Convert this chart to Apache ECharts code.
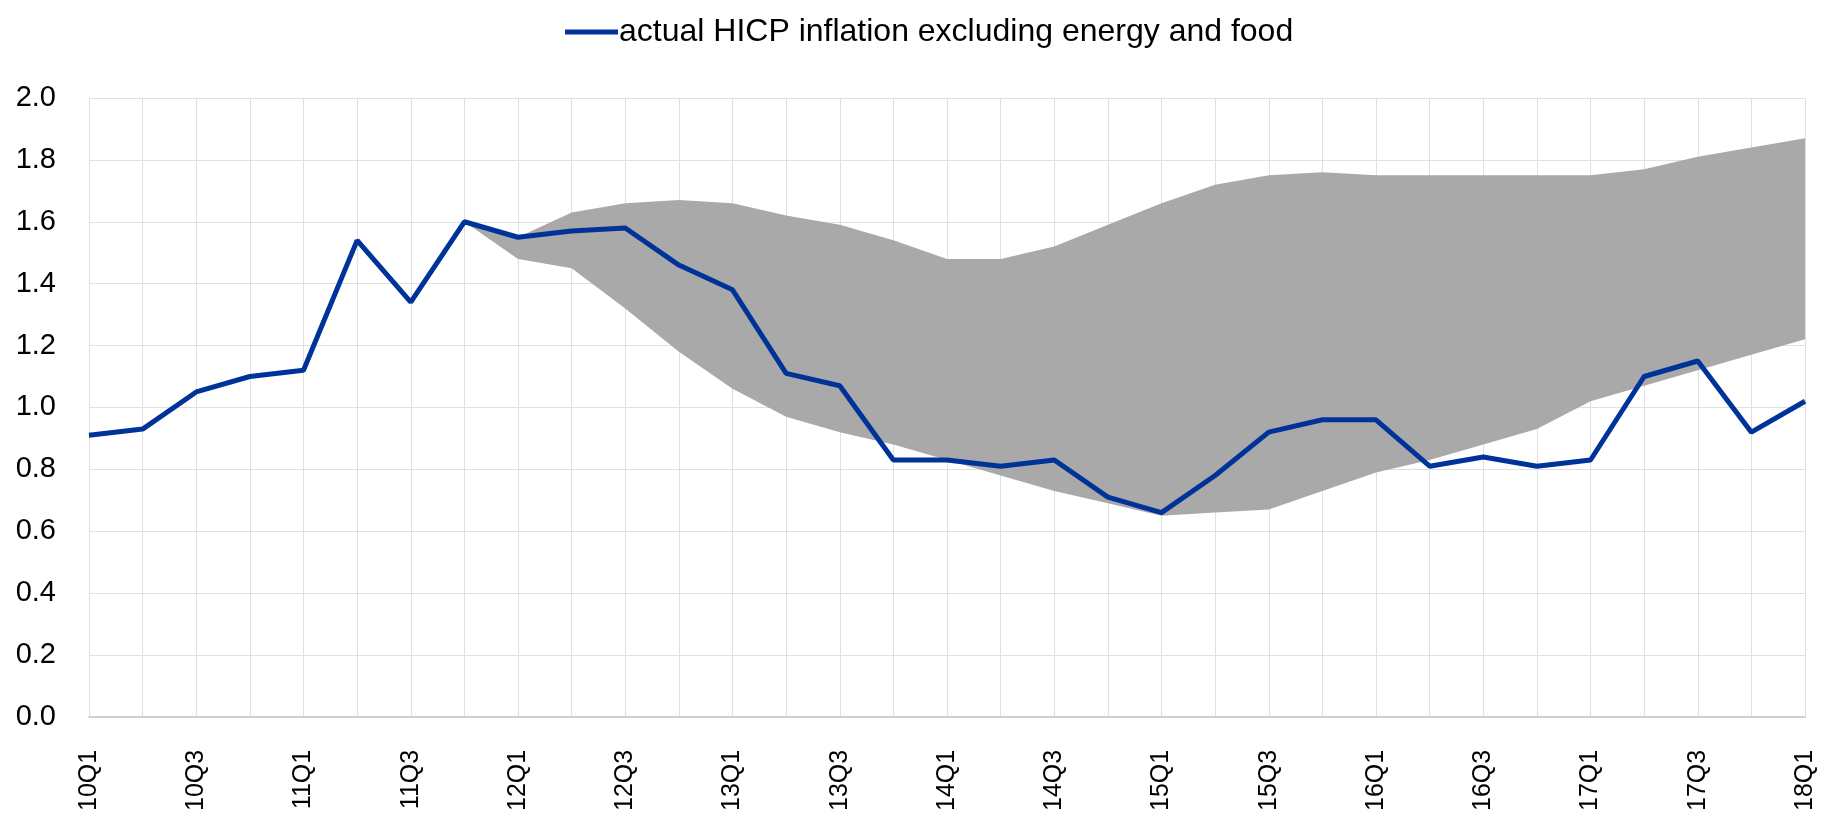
<!DOCTYPE html>
<html>
<head>
<meta http-equiv="Content-Type" content="text/html; charset=UTF-8">
<title>HICP inflation excluding energy and food</title>
<script type="text/javascript" src="https://cdn.jsdelivr.net/npm/echarts@6/dist/echarts.min.js"></script>
<style>
  html, body { margin: 0; padding: 0; background: #fff; }
</style>
</head>
<body>
    <div id="main" style="width: 1822px; height: 814px;"></div>
    <script type="text/javascript">
        // quarters 10Q1 .. 18Q1
        var quarters = ['10Q1','10Q2','10Q3','10Q4','11Q1','11Q2','11Q3','11Q4',
            '12Q1','12Q2','12Q3','12Q4','13Q1','13Q2','13Q3','13Q4',
            '14Q1','14Q2','14Q3','14Q4','15Q1','15Q2','15Q3','15Q4',
            '16Q1','16Q2','16Q3','16Q4','17Q1','17Q2','17Q3','17Q4','18Q1'];

        // actual HICP inflation excluding energy and food
        var actual = [0.91, 0.93, 1.05, 1.10, 1.12, 1.54, 1.34, 1.60,
            1.55, 1.57, 1.58, 1.46, 1.38, 1.11, 1.07, 0.83,
            0.83, 0.81, 0.83, 0.71, 0.66, 0.78, 0.92, 0.96,
            0.96, 0.81, 0.84, 0.81, 0.83, 1.10, 1.15, 0.92, 1.02];

        // shaded range (lower / upper bound), starts at 11Q4
        var bandLower = ['-', '-', '-', '-', '-', '-', '-', 1.60,
            1.48, 1.45, 1.32, 1.18, 1.06, 0.97, 0.92, 0.88,
            0.83, 0.78, 0.73, 0.69, 0.65, 0.66, 0.67, 0.73,
            0.79, 0.83, 0.88, 0.93, 1.02, 1.07, 1.12, 1.17, 1.22];
        var bandUpper = ['-', '-', '-', '-', '-', '-', '-', 1.60,
            1.55, 1.63, 1.66, 1.67, 1.66, 1.62, 1.59, 1.54,
            1.48, 1.48, 1.52, 1.59, 1.66, 1.72, 1.75, 1.76,
            1.75, 1.75, 1.75, 1.75, 1.75, 1.77, 1.81, 1.84, 1.87];

        var yTicks = [0, 0.2, 0.4, 0.6, 0.8, 1.0, 1.2, 1.4, 1.6, 1.8, 2.0];

        var bandWidth = bandUpper.map(function (u, i) {
            return u === '-' ? '-' : +(u - bandLower[i]).toFixed(3);
        });

        var legendName = 'actual HICP inflation excluding energy and food';
        var font = 'Liberation Sans, Arial, sans-serif';

        var myChart = echarts.init(document.getElementById('main'));
        myChart.setOption({
            animation: false,
            textStyle: { fontFamily: font },
            legend: {
                data: [legendName],
                left: 560,
                top: 11,
                icon: 'rect',
                itemWidth: 53,
                itemHeight: 5,
                itemGap: 0,
                textStyle: { fontSize: 32, color: '#000', padding: [0, 0, 0, -4] }
            },
            grid: {
                left: 89,
                right: 17,
                top: 98,
                bottom: 96,
                containLabel: false
            },
            xAxis: {
                type: 'category',
                data: quarters,
                boundaryGap: false,
                axisLine: { lineStyle: { color: '#d0d0d0', width: 2 } },
                axisTick: { show: false },
                axisLabel: {
                    interval: 1,
                    rotate: 90,
                    margin: 33,
                    fontSize: 25,
                    color: '#000'
                },
                splitLine: { show: true, interval: 0, lineStyle: { color: '#e0e0e0', width: 1 } }
            },
            yAxis: {
                type: 'value',
                min: yTicks[0],
                max: yTicks[yTicks.length - 1],
                interval: 0.2,
                axisLine: { show: true, lineStyle: { color: '#e0e0e0', width: 1 } },
                axisTick: { show: false },
                axisLabel: {
                    margin: 33,
                    fontSize: 29,
                    color: '#000',
                    formatter: function (v) { return v.toFixed(1); }
                },
                splitLine: { lineStyle: { color: '#e0e0e0', width: 1 } }
            },
            series: [
                {
                    name: 'band lower',
                    type: 'line',
                    stack: 'band',
                    data: bandLower,
                    symbol: 'none',
                    lineStyle: { opacity: 0 },
                    silent: true
                },
                {
                    name: 'band',
                    type: 'line',
                    stack: 'band',
                    data: bandWidth,
                    symbol: 'none',
                    lineStyle: { opacity: 0 },
                    areaStyle: { color: '#a9a9a9', opacity: 1 },
                    silent: true
                },
                {
                    name: legendName,
                    type: 'line',
                    data: actual,
                    symbol: 'none',
                    color: '#003399',
                    lineStyle: { color: '#003399', width: 5 },
                    z: 5
                }
            ]
        });
    </script>
</body>
</html>
